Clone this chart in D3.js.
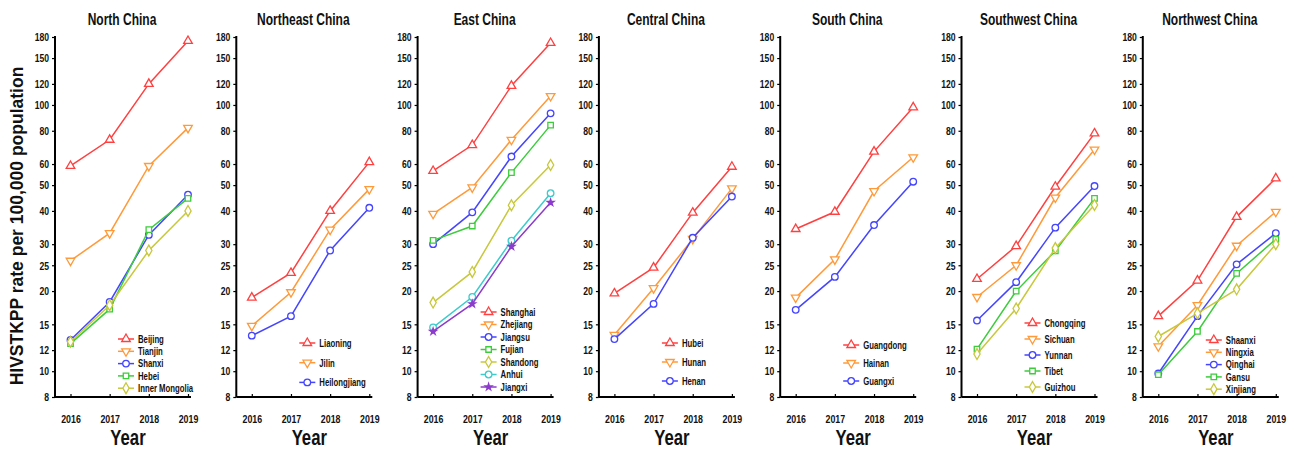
<!DOCTYPE html>
<html>
<head>
<meta charset="utf-8">
<script src="https://cdn.jsdelivr.net/npm/d3@7"></script>
<style>
  body { margin: 0; background: #fff; }
  svg { display: block; }
  .narrow { font-family: "Liberation Sans Narrow", "Arial Narrow", "Liberation Sans", Arial, sans-serif; font-weight: bold; }
</style>
</head>
<body>
<script>
// ---- Data ----
const years = [2016, 2017, 2018, 2019];
const yTicks = [8, 10, 12, 15, 20, 25, 30, 40, 50, 60, 80, 100, 120, 150, 180];
const regionNames = ["North China", "Northeast China", "East China", "Central China", "South China", "Southwest China", "Northwest China"];

const northProvinces = ["Beijing", "Tianjin", "Shanxi", "Hebei", "Inner Mongolia"];
const northValues = [
  [59, 74, 120, 174],
  [26, 33, 59, 82],
  [13.1, 18.2, 32.5, 46],
  [12.7, 17.1, 34, 44.6],
  [12.9, 17.7, 28.4, 40]
];
const northeastProvinces = ["Liaoning", "Jilin", "Heilongjiang"];
const northeastValues = [
  [18.9, 23.4, 40, 61],
  [14.8, 19.8, 34, 48.3],
  [13.6, 16.1, 28.4, 41.1]
];
const eastProvinces = ["Shanghai", "Zhejiang", "Jiangsu", "Fujian", "Shandong", "Anhui", "Jiangxi"];
const eastValues = [
  [56.5, 70.7, 118, 171],
  [39, 49, 74, 108],
  [30, 39.5, 64, 93],
  [31, 35.1, 55.7, 84],
  [18.1, 23.6, 42, 59.5],
  [14.6, 19, 30.9, 46.6],
  [14.1, 17.9, 29.4, 43]
];
const centralProvinces = ["Hubei", "Hunan", "Henan"];
const centralValues = [
  [19.6, 24.5, 39.4, 58.6],
  [13.7, 20.5, 31.4, 48.6],
  [13.2, 17.9, 31.7, 45.3]
];
const southProvinces = ["Guangdong", "Hainan", "Guangxi"];
const southValues = [
  [34.2, 39.7, 66.8, 98],
  [18.9, 26.3, 47.5, 63.6],
  [17, 22.6, 35.4, 51.5]
];
const southwestProvinces = ["Chongqing", "Sichuan", "Yunnan", "Tibet", "Guizhou"];
const southwestValues = [
  [22.2, 29.5, 49.3, 78.2],
  [19, 25, 44.9, 68],
  [15.5, 21.6, 34.6, 49.6],
  [12.1, 20, 28.3, 44.6],
  [11.6, 17.2, 29, 42.1]
];
const northwestProvinces = ["Shaanxi", "Ningxia", "Qinghai", "Gansu", "Xinjiang"];
const northwestValues = [
  [16.1, 21.9, 38, 53],
  [12.4, 17.7, 29.6, 39.7],
  [9.8, 16.1, 25.2, 33],
  [9.7, 14.1, 23.3, 31.3],
  [13.5, 16.5, 20.3, 30]
];

const provinceLists = [northProvinces, northeastProvinces, eastProvinces, centralProvinces, southProvinces, southwestProvinces, northwestProvinces];
const valueLists = [northValues, northeastValues, eastValues, centralValues, southValues, southwestValues, northwestValues];

// ---- Styles ----
const colors = ["#ff4040", "#ff9a3a", "#4545ff", "#3ccc3c", "#c8c83c", "#3ccccc", "#8c3ccc"];
const symbols = ["triUp", "triDown", "circle", "square", "diamond", "circle", "star"];
// legend: first row y, row spacing
const legendLayout = [[339, 12.3], [343, 19.7], [312, 12.5], [343, 19], [345, 18], [323, 16], [340, 12.3]];

const W = 1295, H = 450;
const svg = d3.select("body").append("svg").attr("width", W).attr("height", H);

const y = d3.scaleLog().domain([8, 180]).range([397, 37]);

function symbolPath(kind) {
  const map = { triUp: d3.symbolTriangle, triDown: d3.symbolTriangle, circle: d3.symbolCircle,
    square: d3.symbolSquare, diamond: d3.symbolDiamond, star: d3.symbolStar };
  const size = { triUp: 32, triDown: 32, circle: 34, square: 30, diamond: 34, star: 14 }[kind];
  return d3.symbol().type(map[kind]).size(size)();
}
function drawMarker(g, kind, cx, cy, color) {
  g.append("path")
    .attr("d", symbolPath(kind))
    .attr("transform", `translate(${cx},${cy})` + (kind === "triDown" ? " rotate(180)" : ""))
    .attr("fill", kind === "star" ? color : "#fff")
    .attr("stroke", color)
    .attr("stroke-width", 1.3);
}
// condensed text helper
function ctext(parent, x, yy, str, size, anchor, sx) {
  return parent.append("text").attr("class", "narrow")
    .attr("transform", `translate(${x},${yy}) scale(${sx},1)`)
    .attr("text-anchor", anchor).attr("font-size", size).attr("fill", "#111").text(str);
}

regionNames.forEach((name, i) => {
  const ax = 55 + i * 181.3;
  const g = svg.append("g");
  const x = d3.scalePoint().domain(years).range([ax + 15.5, ax + 133]);

  // Y axis
  const yAxis = d3.axisLeft(y).tickValues(yTicks).tickFormat(d3.format("d")).tickSize(3).tickPadding(2);
  const ya = g.append("g").attr("transform", `translate(${ax},0)`).call(yAxis);
  ya.select(".domain").attr("stroke", "#000").attr("stroke-width", 2).attr("d", `M0,36V397`);
  ya.selectAll(".tick line").attr("stroke", "#000").attr("stroke-width", 1.2);
  ya.selectAll("text").attr("class", "narrow").attr("font-size", 10.5).attr("fill", "#111")
    .attr("x", null).attr("dy", "0.36em").attr("transform", "translate(-6,0) scale(0.82,1)");

  // X axis
  const xAxis = d3.axisBottom(x).tickSize(-3).tickPadding(10);
  const xa = g.append("g").attr("transform", `translate(0,397)`).call(xAxis);
  xa.select(".domain").attr("stroke", "#000").attr("stroke-width", 2).attr("d", `M${ax},0H${ax + 136}`);
  xa.selectAll(".tick line").attr("stroke", "#000").attr("stroke-width", 1.2);
  xa.selectAll("text").attr("class", "narrow").attr("font-size", 11).attr("fill", "#111")
    .attr("y", null).attr("dy", null).attr("transform", "translate(0,26) scale(0.8,1)");

  // Title
  ctext(g, ax + 67, 25, name, 16, "middle", 0.75);
  // X label
  ctext(g, ax + 73, 445, "Year", 22, "middle", 0.76);

  // Series
  const provs = provinceLists[i], vals = valueLists[i];
  const line = d3.line().x((d, k) => x(years[k])).y(d => y(d));
  provs.forEach((p, j) => {
    const c = colors[j];
    g.append("path").attr("d", line(vals[j])).attr("fill", "none").attr("stroke", c).attr("stroke-width", 1.5);
    vals[j].forEach((v, k) => drawMarker(g, symbols[j], x(years[k]), y(v), c));
  });

  // Legend
  const [ly0, ldy] = legendLayout[i];
  provs.forEach((p, j) => {
    const c = colors[j];
    const ly = ly0 + j * ldy;
    const lx = ax + 63;
    g.append("line").attr("x1", lx).attr("x2", lx + 16).attr("y1", ly).attr("y2", ly)
      .attr("stroke", c).attr("stroke-width", 1.5);
    drawMarker(g, symbols[j], lx + 8, ly, c);
    ctext(g, lx + 20, ly + 3.8, p, 10.5, "start", 0.74);
  });
});

// Y axis label
svg.append("text")
  .attr("transform", "translate(23,226) rotate(-90)")
  .attr("text-anchor", "middle")
  .attr("font-family", "'Liberation Sans', Arial, sans-serif")
  .attr("font-weight", "bold").attr("font-size", 17.5).attr("fill", "#111")
  .text("HIVSTKPP rate per 100,000 population");
</script>
</body>
</html>
